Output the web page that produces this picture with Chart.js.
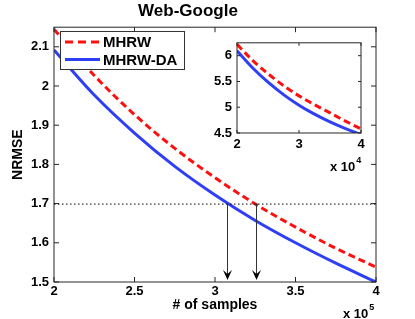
<!DOCTYPE html>
<html>
<head>
<meta charset="utf-8">
<script src="https://cdn.jsdelivr.net/npm/chart.js@4.4.1/dist/chart.umd.min.js"></script>
<style>
  html, body { margin: 0; padding: 0; background: #fff; }
  #wrap { position: relative; width: 415px; height: 319px; }
  #chart { position: absolute; left: 0; top: 0; }
  #inset { position: absolute; left: 200px; top: 30px; }
</style>
</head>
<body>
<div id="wrap">
  <canvas id="chart" width="415" height="319"></canvas>
  <canvas id="inset" width="175" height="145"></canvas>
</div>
<script>
// main plot, # of samples in units of 10^5
var samples = [2, 2.25, 2.5, 2.75, 3, 3.25, 3.5, 3.75, 4];
var mhrw = [2.145, 2.027, 1.927, 1.841, 1.766, 1.699, 1.640, 1.586, 1.538];
var mhrwDA = [2.092, 1.977, 1.880, 1.795, 1.722, 1.657, 1.600, 1.548, 1.500];
var xTicks = [2, 2.5, 3, 3.5, 4];
var yTicks = [1.5, 1.6, 1.7, 1.8, 1.9, 2, 2.1];

// inset, # of samples in units of 10^4
var insetSamples = [2, 2.25, 2.5, 2.75, 3, 3.25, 3.5, 3.75, 4];
var insetMhrw = [6.22, 5.91, 5.65, 5.42, 5.22, 5.05, 4.89, 4.73, 4.58];
var insetMhrwDA = [6.095, 5.765, 5.485, 5.245, 5.04, 4.865, 4.715, 4.585, 4.47];
var insetXTicks = [2, 3, 4];
var insetYTicks = [4.5, 5, 5.5, 6];

// NRMSE level and where each method reaches it
var target = 1.7;
var crossings = [3.076, 3.253];

var RED = '#ff1010';
var BLUE = '#2f3ff5';
var FONT = '"Liberation Sans", Arial, sans-serif';
Chart.defaults.font.family = FONT;
Chart.defaults.color = '#000';

function pts(xs, ys) {
  return xs.map(function (x, i) { return {x: x, y: ys[i]}; });
}

function lineSet(label, data, color, dashed) {
  return {
    label: label,
    data: data,
    borderColor: color,
    borderWidth: 3,
    borderDash: dashed ? [7, 4] : [],
    pointRadius: 0,
    cubicInterpolationMode: 'monotone',
    fill: false
  };
}

// matlab style box with inward ticks on all four sides
function boxPlugin(len, xt, yt) {
  return {
    id: 'box',
    beforeDatasetsDraw: function (chart) {
      var a = chart.chartArea, ctx = chart.ctx;
      ctx.save();
      ctx.fillStyle = '#fff';
      ctx.fillRect(a.left, a.top, a.right - a.left, a.bottom - a.top);
      ctx.restore();
    },
    afterDatasetsDraw: function (chart) {
      var a = chart.chartArea, ctx = chart.ctx;
      var xs = chart.scales.x, ys = chart.scales.y;
      ctx.save();
      ctx.strokeStyle = '#262626';
      ctx.lineWidth = 1;
      ctx.strokeRect(a.left, a.top, a.right - a.left, a.bottom - a.top);
      ctx.beginPath();
      xt.forEach(function (v) {
        var px = xs.getPixelForValue(v);
        ctx.moveTo(px, a.bottom); ctx.lineTo(px, a.bottom - len);
        ctx.moveTo(px, a.top); ctx.lineTo(px, a.top + len);
      });
      yt.forEach(function (v) {
        var py = ys.getPixelForValue(v);
        ctx.moveTo(a.left, py); ctx.lineTo(a.left + len, py);
        ctx.moveTo(a.right, py); ctx.lineTo(a.right - len, py);
      });
      ctx.stroke();
      ctx.restore();
    }
  };
}

function exponentPlugin(exp, x, y) {
  return {
    id: 'exponent',
    afterDraw: function (chart) {
      var ctx = chart.ctx;
      ctx.save();
      ctx.fillStyle = '#000';
      ctx.textBaseline = 'alphabetic';
      ctx.textAlign = 'left';
      ctx.font = 'bold 13px ' + FONT;
      ctx.fillText('x 10', x, y);
      var w = ctx.measureText('x 10').width;
      ctx.font = 'bold 9px ' + FONT;
      ctx.fillText(exp, x + w + 1, y - 8);
      ctx.restore();
    }
  };
}

var markPlugin = {
  id: 'marks',
  afterDatasetsDraw: function (chart) {
    var a = chart.chartArea, ctx = chart.ctx;
    var xs = chart.scales.x, ys = chart.scales.y;
    var y0 = ys.getPixelForValue(target);
    ctx.save();
    ctx.strokeStyle = '#000';
    ctx.lineWidth = 1;
    ctx.setLineDash([1.5, 2.5]);
    ctx.beginPath();
    ctx.moveTo(a.left, y0 + 0.5);
    ctx.lineTo(a.right, y0 + 0.5);
    ctx.stroke();
    ctx.setLineDash([]);
    crossings.forEach(function (v) {
      var px = Math.round(xs.getPixelForValue(v)) + 0.5;
      var y1 = a.bottom - 2;
      ctx.strokeStyle = '#333';
      ctx.beginPath();
      ctx.moveTo(px, y0);
      ctx.lineTo(px, y1 - 4);
      ctx.stroke();
      ctx.fillStyle = '#000';
      ctx.beginPath();
      ctx.moveTo(px, y1);
      ctx.lineTo(px - 4.5, y1 - 10);
      ctx.lineTo(px, y1 - 6);
      ctx.lineTo(px + 4.5, y1 - 10);
      ctx.closePath();
      ctx.fill();
    });
    ctx.restore();
  }
};

var legendPlugin = {
  id: 'boxLegend',
  afterDraw: function (chart) {
    var ctx = chart.ctx;
    var sets = chart.data.datasets;
    ctx.save();
    ctx.fillStyle = '#fff';
    ctx.fillRect(60.5, 31.5, 124, 38);
    ctx.strokeStyle = '#333';
    ctx.lineWidth = 1;
    ctx.strokeRect(60.5, 31.5, 124, 38);
    sets.forEach(function (ds, i) {
      var y = 42 + i * 17.5;
      ctx.strokeStyle = ds.borderColor;
      ctx.lineWidth = 3;
      ctx.setLineDash(ds.borderDash.length ? [8, 5] : []);
      ctx.beginPath();
      ctx.moveTo(65, y);
      ctx.lineTo(100, y);
      ctx.stroke();
      ctx.setLineDash([]);
      ctx.fillStyle = '#000';
      ctx.font = 'bold 15px ' + FONT;
      ctx.textBaseline = 'middle';
      ctx.fillText(ds.label, 103, y + 1);
    });
    ctx.restore();
  }
};

function fixTicks(list) {
  return function (scale) {
    scale.ticks = list.map(function (v) { return {value: v}; });
  };
}

var tickFont = {size: 13, weight: 'bold'};

new Chart(document.getElementById('chart'), {
  type: 'line',
  data: {
    datasets: [
      lineSet('MHRW', pts(samples, mhrw), RED, true),
      lineSet('MHRW-DA', pts(samples, mhrwDA), BLUE, false)
    ]
  },
  options: {
    responsive: false,
    animation: false,
    devicePixelRatio: 1,
    layout: {padding: {right: 39}},
    plugins: {
      legend: {display: false},
      tooltip: {enabled: false},
      title: {
        display: true,
        text: 'Web-Google',
        color: '#000',
        font: {size: 17, weight: 'bold'},
        padding: {top: 1, bottom: 5.8}
      }
    },
    scales: {
      x: {
        type: 'linear',
        min: 2,
        max: 4,
        afterBuildTicks: fixTicks(xTicks),
        afterFit: function (s) { s.height = 37; },
        grid: {display: false, drawTicks: false},
        border: {display: false},
        ticks: {font: tickFont, padding: 2, maxRotation: 0, autoSkip: false,
          callback: function (v) { return String(v); }},
        title: {display: true, text: '# of samples', font: {size: 14, weight: 'bold'},
          padding: {top: 0, bottom: 5}}
      },
      y: {
        type: 'linear',
        min: 1.5,
        max: 2.15,
        afterBuildTicks: fixTicks(yTicks),
        afterFit: function (s) { s.width = 54; },
        grid: {display: false, drawTicks: false},
        border: {display: false},
        ticks: {font: tickFont, padding: 5,
          callback: function (v) { return String(v); }},
        title: {display: true, text: 'NRMSE', font: {size: 14, weight: 'bold'},
          padding: {top: 10, bottom: 0}}
      }
    }
  },
  plugins: [boxPlugin(5, xTicks, yTicks), markPlugin, legendPlugin, exponentPlugin('5', 343, 318)]
});

new Chart(document.getElementById('inset'), {
  type: 'line',
  data: {
    datasets: [
      lineSet('MHRW', pts(insetSamples, insetMhrw), RED, true),
      lineSet('MHRW-DA', pts(insetSamples, insetMhrwDA), BLUE, false)
    ]
  },
  options: {
    responsive: false,
    animation: false,
    devicePixelRatio: 1,
    layout: {padding: {top: 9, right: 14}},
    plugins: {legend: {display: false}, tooltip: {enabled: false}},
    scales: {
      x: {
        type: 'linear',
        min: 2,
        max: 4,
        afterBuildTicks: fixTicks(insetXTicks),
        afterFit: function (s) { s.height = 42; },
        grid: {display: false, drawTicks: false},
        border: {display: false},
        ticks: {font: {size: 13, weight: 'bold'}, padding: 4, maxRotation: 0, autoSkip: false,
          callback: function (v) { return String(v); }}
      },
      y: {
        type: 'linear',
        min: 4.5,
        max: 6.25,
        afterBuildTicks: fixTicks(insetYTicks),
        afterFit: function (s) { s.width = 37; },
        grid: {display: false, drawTicks: false},
        border: {display: false},
        ticks: {font: {size: 13, weight: 'bold'}, padding: 5,
          callback: function (v) { return String(v); }}
      }
    }
  },
  plugins: [boxPlugin(3, insetXTicks, insetYTicks), exponentPlugin('4', 130, 141)]
});
</script>
</body>
</html>
